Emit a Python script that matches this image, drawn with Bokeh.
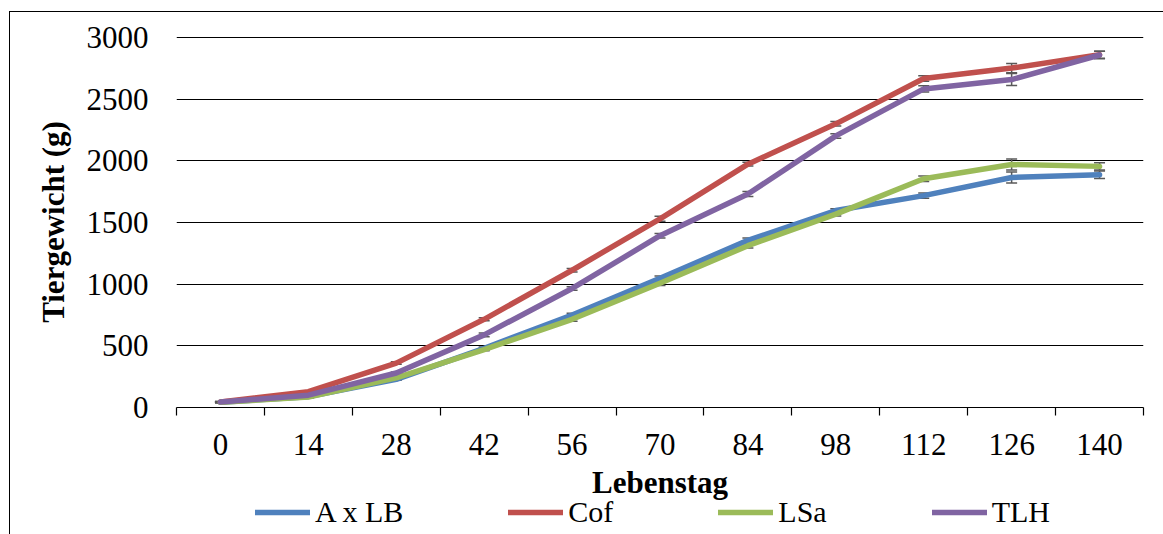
from bokeh.plotting import figure
from bokeh.layouts import column
from bokeh.models import (ColumnDataSource, Whisker, TeeHead, FixedTicker,
                          Legend, LegendItem, Range1d)
from bokeh.embed import file_html
from bokeh.resources import INLINE

# Lebenstag (day of life)
days = [0, 14, 28, 42, 56, 70, 84, 98, 112, 126, 140]

# Mean body weight (g) per line
axlb = [43, 88, 228, 480, 750, 1048, 1355, 1597, 1718, 1865, 1887]
cof = [45, 128, 360, 715, 1113, 1530, 1973, 2300, 2668, 2752, 2860]
lsa = [42, 85, 240, 470, 715, 1008, 1312, 1568, 1855, 1970, 1955]
tlh = [44, 100, 280, 589, 965, 1393, 1731, 2202, 2583, 2659, 2858]

# Standard errors (g)
axlb_se = [4, 6, 8, 10, 15, 18, 20, 15, 22, 45, 30]
cof_se = [4, 6, 10, 12, 15, 20, 15, 18, 22, 38, 28]
lsa_se = [4, 6, 8, 10, 15, 18, 18, 15, 22, 45, 30]
tlh_se = [4, 6, 8, 15, 15, 18, 20, 18, 25, 48, 30]

series_names = ["A x LB", "Cof", "LSa", "TLH"]
series_vals = [axlb, cof, lsa, tlh]
series_se = [axlb_se, cof_se, lsa_se, tlh_se]
colors = ["#4F81BD", "#C0504D", "#9BBB59", "#8064A2"]

y_ticks = [0, 500, 1000, 1500, 2000, 2500, 3000]

FONT = "Liberation Serif"
LINE_W = 5.5
step = days[1] - days[0]

# ---- main chart -------------------------------------------------------
p = figure(width=1153, height=490, output_backend="svg", toolbar_location=None,
           x_range=Range1d(days[0] - step / 2, days[-1] + step / 2),
           y_range=Range1d(y_ticks[0], y_ticks[-1] + 8),
           min_border_left=166, min_border_right=20,
           min_border_top=24, min_border_bottom=94)
p.outline_line_color = None
p.background_fill_color = "white"
p.border_fill_color = "white"

# grid
p.xgrid.grid_line_color = None
p.ygrid.grid_line_color = "black"
p.ygrid.grid_line_width = 1.2

# x axis: labels centred on each day, tick marks between categories
boundaries = [d - step / 2 for d in days] + [days[-1] + step / 2]
p.xaxis.ticker = FixedTicker(ticks=days, minor_ticks=boundaries)
p.xaxis.major_tick_out = 0
p.xaxis.major_tick_in = 0
p.xaxis.minor_tick_out = 8
p.xaxis.minor_tick_in = 0
p.xaxis.minor_tick_line_color = "black"
p.xaxis.minor_tick_line_width = 1.2
p.xaxis.axis_line_color = "black"
p.xaxis.axis_line_width = 1.2
p.xaxis.major_label_standoff = 18
p.xaxis.axis_label = "Lebenstag"
p.xaxis.axis_label_standoff = 7

# y axis
p.yaxis.ticker = FixedTicker(ticks=y_ticks)
p.yaxis.axis_line_color = None
p.yaxis.major_tick_line_color = None
p.yaxis.minor_tick_line_color = None
p.yaxis.major_tick_out = 0
p.yaxis.major_tick_in = 0
p.yaxis.major_label_standoff = 28
p.yaxis.axis_label = "Tiergewicht (g)"
p.yaxis.axis_label_standoff = 13

for ax in (p.xaxis[0], p.yaxis[0]):
    ax.major_label_text_font = FONT
    ax.major_label_text_font_size = "31px"
    ax.major_label_text_color = "black"
    ax.axis_label_text_font = FONT
    ax.axis_label_text_font_size = "31px"
    ax.axis_label_text_font_style = "bold"
    ax.axis_label_text_color = "black"

for name, vals, col in zip(series_names, series_vals, colors):
    src = ColumnDataSource(dict(x=days, y=vals))
    p.line("x", "y", source=src, line_color=col, line_width=LINE_W,
           line_cap="round", line_join="round")

for vals, se in zip(series_vals, series_se):
    src = ColumnDataSource(dict(x=days,
                                lo=[v - s for v, s in zip(vals, se)],
                                hi=[v + s for v, s in zip(vals, se)]))
    p.add_layout(Whisker(source=src, base="x", lower="lo", upper="hi",
                         line_color="#595959", line_width=1.5,
                         lower_head=TeeHead(size=11, line_color="#595959", line_width=1.5),
                         upper_head=TeeHead(size=11, line_color="#595959", line_width=1.5)))

# ---- legend strip (frame aligned with the chart frame) ----------------
leg = figure(width=1153, height=40, output_backend="svg", toolbar_location=None,
             x_axis_location=None, y_axis_location=None,
             min_border=0, margin=(-8, 0, 0, 0))
leg.outline_line_color = None
leg.grid.grid_line_color = None
leg.background_fill_alpha = 0
leg.border_fill_alpha = 0

keys = []
for name, vals, col in zip(series_names, series_vals, colors):
    # hidden copies of the series, only used to draw the legend keys
    r = leg.line(days, vals, line_color=col, line_width=LINE_W,
                 line_cap="round", visible=False)
    keys.append(LegendItem(label=name, renderers=[r]))

legend = Legend(items=keys, orientation="horizontal", location=(79, 5),
                glyph_width=55, glyph_height=20, label_standoff=5, spacing=105,
                padding=0, margin=0, border_line_color=None, background_fill_alpha=0,
                click_policy="none",
                label_text_font=FONT, label_text_font_size="30px", label_text_color="black")
leg.add_layout(legend, "center")

layout = column(p, leg, spacing=0, margin=(11, 0, 0, 9))
# chart area frame (its left and top edges fall inside the window)
layout.styles = {"border-left": "1px solid black", "border-top": "1px solid black"}

open("out.html", "w").write(file_html(layout, INLINE))
